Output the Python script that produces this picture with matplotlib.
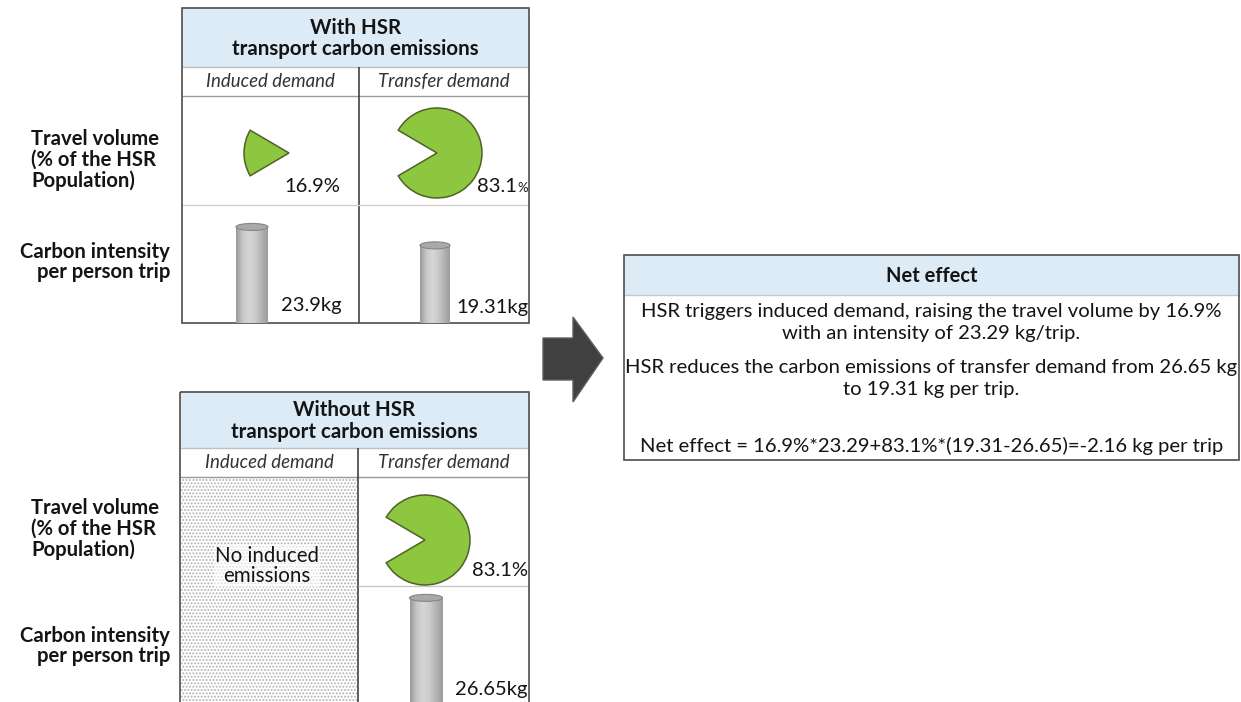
import numpy as np
import matplotlib.pyplot as plt
from matplotlib.patches import Rectangle, Ellipse, Polygon
from matplotlib.colors import LinearSegmentedColormap

# Share of HSR travel volume (%) and carbon intensity per trip (kg)
with_share = [16.9, 83.1]          # induced, transfer
without_share = [83.1]             # transfer only
with_intensity = [23.9, 19.31]     # induced, transfer
without_intensity = [26.65]        # transfer only

col_titles = ['Induced demand', 'Transfer demand']
row_titles = ['Travel volume\n(% of the HSR\nPopulation)', 'Carbon intensity\nper person trip']
net_lines = ['HSR triggers induced demand, raising the travel volume by 16.9%',
             'with an intensity of 23.29 kg/trip.',
             'HSR reduces the carbon emissions of transfer demand from 26.65 kg',
             'to 19.31 kg per trip.',
             'Net effect = 16.9%*23.29+83.1%*(19.31-26.65)=-2.16 kg per trip']

W, H = 1241, 702
FONT = 'Lato'
GREEN = '#8dc63f'
GREEN_EDGE = '#4f6228'
HEAD = '#ddebf7'
DARK = '#4d4d4d'
TXT = '#141414'
PX_PER_KG = 4.02

plt.rcParams['font.family'] = FONT
plt.rcParams['hatch.linewidth'] = 0.9

fig = plt.figure(figsize=(W / 100, H / 100), dpi=100)
bg = fig.add_axes([0, 0, 1, 1])
bg.set_xlim(0, W)
bg.set_ylim(H, 0)
bg.axis('off')


def px_axes(x, y, w, h, z=2):
    return fig.add_axes([x / W, 1 - (y + h) / H, w / W, h / H], zorder=z)


def hline(y, x0, x1, color, lw=1.0):
    bg.plot([x0, x1], [y, y], color=color, lw=lw, solid_capstyle='butt')


def vline(x, y0, y1, color, lw=1.0):
    bg.plot([x, x], [y0, y1], color=color, lw=lw, solid_capstyle='butt')


def pie(cx, cy, share, r=45, induced=True):
    ax = px_axes(cx - r - 2, cy - r - 2, 2 * r + 4, 2 * r + 4)
    half = 3.6 * (100 - share if not induced else share) / 2
    start = 180 - half if induced else 180 + half
    wedges, _ = ax.pie([share, 100 - share], startangle=start, colors=[GREEN, 'white'],
                       wedgeprops=dict(edgecolor=GREEN_EDGE, linewidth=1.1))
    wedges[1].set_visible(False)
    lim = 1 + 2 / r
    ax.set_xlim(-lim, lim)
    ax.set_ylim(-lim, lim)
    ax.axis('off')


gray_cmap = LinearSegmentedColormap.from_list(
    'cyl', ['#9a9a9a', '#c6c6c6', '#d6d6d6', '#cbcbcb', '#b4b4b4', '#9c9c9c'])


def cylinder(cx, top, base, value, w=32):
    ax = px_axes(cx - w / 2 - 3, top, w + 6, base - top)
    ax.set_facecolor('none')
    bar = ax.bar([0], [value], width=w, color='#c0c0c0', linewidth=0)[0]
    grad = np.linspace(0, 1, 64).reshape(1, -1)
    im = ax.imshow(grad, extent=(-w / 2, w / 2, 0, value), cmap=gray_cmap,
                   aspect='auto', zorder=2)
    im.set_clip_path(bar)
    eh = 7 / PX_PER_KG
    ax.add_patch(Ellipse((0, value), w, eh, facecolor='#a9a9a9',
                         edgecolor='#858585', lw=0.8, zorder=3))
    ax.set_xlim(-w / 2 - 3, w / 2 + 3)
    ax.set_ylim(0, (base - top) / PX_PER_KG)
    ax.axis('off')


def table_frame(x0, x1, y0, yh, ys, yb, xm, title):
    bg.add_patch(Rectangle((x0, y0), x1 - x0, yh - y0, facecolor=HEAD, edgecolor='none'))
    hline(yh, x0, x1, '#bfbfbf')
    hline(ys, x0, x1, '#9a9a9a')
    vline(xm, yh, yb, '#333333', 1.1)
    bg.add_patch(Rectangle((x0, y0), x1 - x0, yb - y0, facecolor='none',
                           edgecolor=DARK, lw=1.2, zorder=5))
    bg.text((x0 + x1) / 2, (y0 + yh) / 2 + 1, title, ha='center', va='center',
            fontsize=14.8, fontweight='bold', color=TXT, linespacing=1.12)
    for cxm, t in zip([(x0 + xm) / 2, (xm + x1) / 2], col_titles):
        bg.text(cxm, (yh + ys) / 2, t, ha='center', va='center', fontsize=13.4,
                style='italic', color='#333333')


def row_labels(y_vol, y_int):
    bg.text(31, y_vol, row_titles[0], ha='left', va='center', fontsize=14.6,
            fontweight='bold', color=TXT, linespacing=1.05)
    bg.text(170, y_int, row_titles[1], ha='right', va='center', fontsize=14.6,
            fontweight='bold', color=TXT, linespacing=1.05)


# --- with HSR -------------------------------------------------------------
table_frame(182, 529, 8, 67, 96, 323, 359, 'With HSR\ntransport carbon emissions')
hline(205, 182, 529, '#d0d0d0')
row_labels(160, 262)

pie(289, 153, with_share[0], induced=True)
pie(437, 153, with_share[1], induced=False)
bg.text(340, 186, f'{with_share[0]}%', ha='right', va='center', fontsize=14.5, color=TXT)
bg.text(517, 186, f'{with_share[1]}', ha='right', va='center', fontsize=14.5, color=TXT)
bg.text(517, 188, '%', ha='left', va='center', fontsize=9.5, color=TXT)

cylinder(252, 205, 323, with_intensity[0])
cylinder(435, 205, 323, with_intensity[1], w=30)
bg.text(342, 305, f'{with_intensity[0]}kg', ha='right', va='center', fontsize=14.5, color=TXT, zorder=6)
bg.text(528, 308, f'{with_intensity[1]}kg', ha='right', va='center', fontsize=14.5, color=TXT, zorder=6)

# --- without HSR ----------------------------------------------------------
table_frame(180, 529, 392, 448, 477, 712, 358, 'Without HSR\ntransport carbon emissions')
bg.add_patch(Rectangle((181, 478), 176, 240, facecolor='white', edgecolor='#b0b0b0',
                       lw=0, hatch='.....', zorder=1))
bg.text(267, 566, 'No induced\nemissions', ha='center', va='center', fontsize=14.8,
        color=TXT, linespacing=1.05, zorder=6,
        bbox=dict(boxstyle='square,pad=0.05', facecolor='white', edgecolor='none', alpha=0.6))
hline(586, 358, 529, '#c8c8c8')
row_labels(529, 646)

pie(425, 540, without_share[0], induced=False)
bg.text(528, 571, f'{without_share[0]}%', ha='right', va='center', fontsize=14.5, color=TXT)

cylinder(426, 586, 705, without_intensity[0], w=33)
bg.text(528, 689, f'{without_intensity[0]}kg', ha='right', va='center', fontsize=14.5, color=TXT, zorder=6)

# --- arrow ----------------------------------------------------------------
bg.add_patch(Polygon([(543, 338), (573, 338), (573, 317), (603, 358), (573, 402),
                      (573, 380), (543, 380)], closed=True, facecolor='#404040',
                     edgecolor='#5f5f5f', lw=1))

# --- net effect box -------------------------------------------------------
bx0, bx1, by0, byh, by1 = 624, 1239, 255, 295, 460
bg.add_patch(Rectangle((bx0, by0), bx1 - bx0, byh - by0, facecolor=HEAD, edgecolor='none'))
hline(byh, bx0, bx1, '#c8c8c8')
bg.add_patch(Rectangle((bx0, by0), bx1 - bx0, by1 - by0, facecolor='none',
                       edgecolor=DARK, lw=1.2, zorder=5))
cx = (bx0 + bx1) / 2
bg.text(cx, 276, 'Net effect', ha='center', va='center', fontsize=14.5,
        fontweight='bold', color=TXT)
for y, line in zip([312, 334, 367, 390, 446], net_lines):
    bg.text(cx, y, line, ha='center', va='center', fontsize=14.6, color=TXT)

fig.savefig('out.png', dpi=100, facecolor='white')
